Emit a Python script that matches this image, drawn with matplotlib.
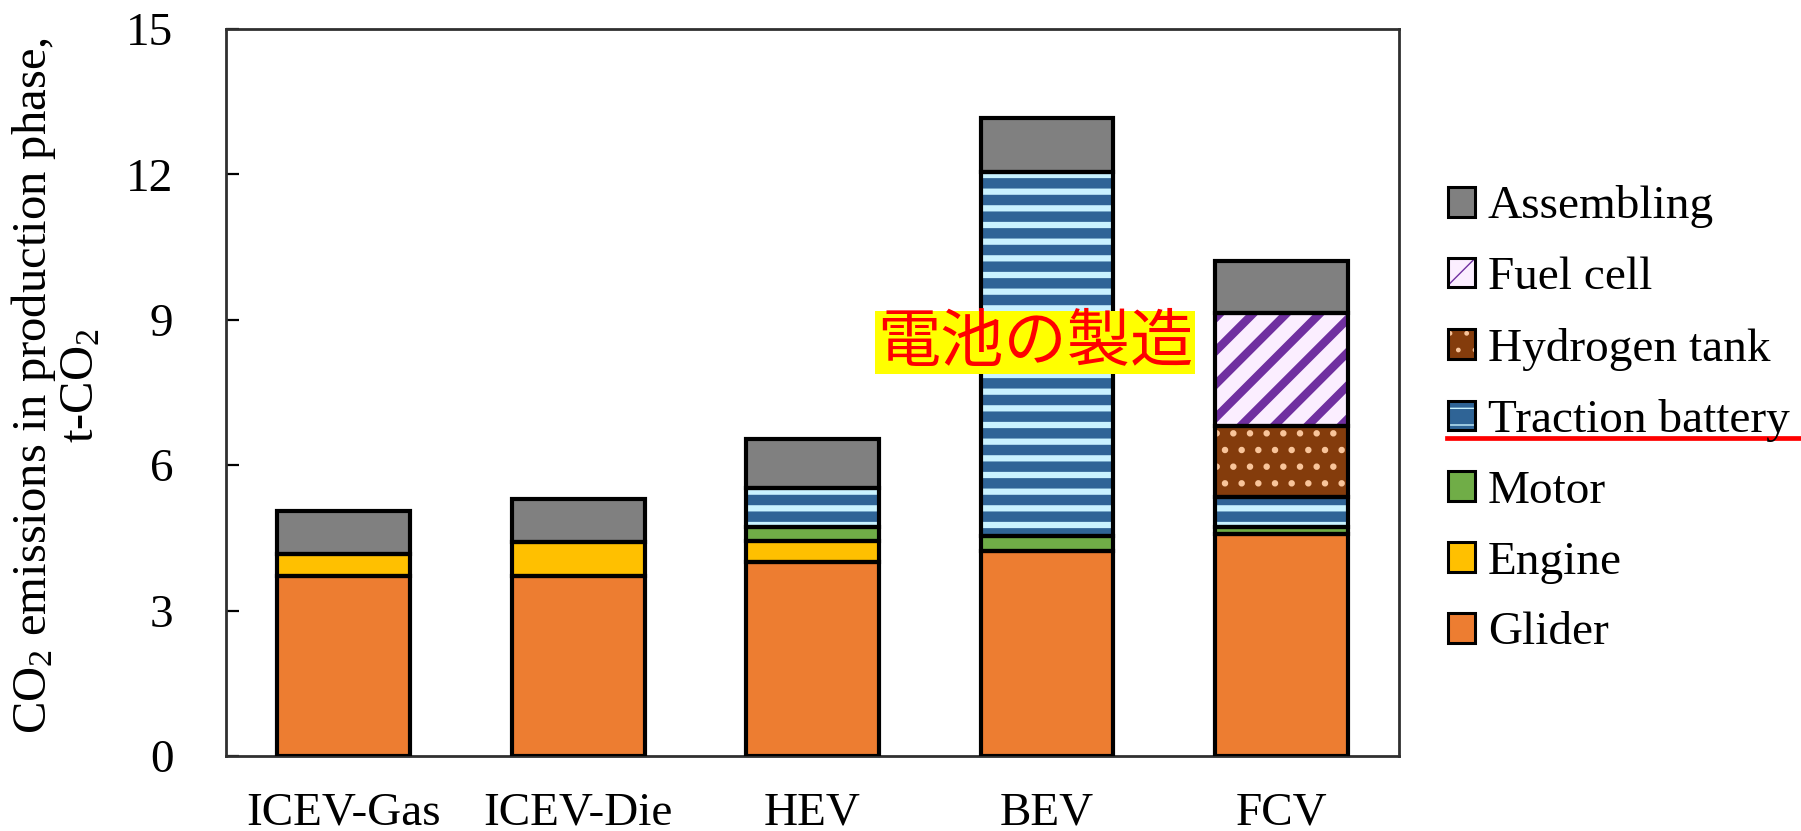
import numpy as np
import matplotlib
matplotlib.use('Agg')
import matplotlib.pyplot as plt
from matplotlib.patches import Patch, Rectangle
from matplotlib.lines import Line2D

vehicles = ['ICEV-Gas', 'ICEV-Die', 'HEV', 'BEV', 'FCV']

# t-CO2 per vehicle, stacked from the bottom up
glider = [3.72, 3.72, 4.00, 4.22, 4.57]
engine = [0.45, 0.70, 0.43, 0.00, 0.00]
motor = [0.00, 0.00, 0.30, 0.31, 0.15]
traction_battery = [0.00, 0.00, 0.80, 7.52, 0.62]
hydrogen_tank = [0.00, 0.00, 0.00, 0.00, 1.47]
fuel_cell = [0.00, 0.00, 0.00, 0.00, 2.33]
assembling = [0.88, 0.88, 1.00, 1.12, 1.08]

components = ['Glider', 'Engine', 'Motor', 'Traction battery',
              'Hydrogen tank', 'Fuel cell', 'Assembling']
series = [glider, engine, motor, traction_battery,
          hydrogen_tank, fuel_cell, assembling]

y_ticks = [0, 3, 6, 9, 12, 15]
note_text = '電池の製造'

# face colour, hatch, hatch colour, hatch line width
styles = {
    'Glider': ('#ED7D31', None, '#ED7D31', 1.0),
    'Engine': ('#FFC000', None, '#FFC000', 1.0),
    'Motor': ('#70AD47', None, '#70AD47', 1.0),
    'Traction battery': ('#2F6496', '-', '#C9F3FF', 4.5),
    'Hydrogen tank': ('#843C0C', '.', '#F8C49A', 2.2),
    'Fuel cell': ('#FBEEFF', '/', '#7030A0', 6.0),
    'Assembling': ('#808080', None, '#808080', 1.0),
}

plt.rcParams['font.family'] = ['Liberation Serif', 'DejaVu Serif']
plt.rcParams['mathtext.fontset'] = 'custom'
plt.rcParams['mathtext.rm'] = 'Liberation Serif'
plt.rcParams['mathtext.it'] = 'Liberation Serif:italic'
plt.rcParams['font.size'] = 34

fig = plt.figure(figsize=(18.01, 8.31), dpi=100)
ax = fig.add_axes([0.1257, 0.0903, 0.6509, 0.8748])

x = np.arange(len(vehicles))
width = 0.567
bottom = np.zeros(len(vehicles))
edge_lw = 3.0


def hatched_patch(name, **kw):
    face, hatch, hcolor, hlw = styles[name]
    plt.rcParams['hatch.linewidth'] = hlw
    p = Patch(facecolor=face, edgecolor=hcolor, hatch=hatch, linewidth=0, **kw)
    if hasattr(p, 'set_hatch_linewidth'):
        p.set_hatch_linewidth(hlw)
    return p


for name, vals in zip(components, series):
    vals = np.array(vals, dtype=float)
    face, hatch, hcolor, hlw = styles[name]
    m = vals > 0
    plt.rcParams['hatch.linewidth'] = hlw
    # colour/hatch layer: hatch takes the edge colour, so the edge is kept at zero width
    bars = ax.bar(x[m], vals[m], width, bottom=bottom[m], color=face,
                  edgecolor=hcolor, linewidth=0, hatch=hatch, zorder=2)
    for b in bars:
        if hasattr(b, 'set_hatch_linewidth'):
            b.set_hatch_linewidth(hlw)
    # black outline on top
    ax.bar(x[m], vals[m], width, bottom=bottom[m], fill=False,
           edgecolor='black', linewidth=edge_lw, zorder=3)
    bottom += vals

ax.set_xlim(-0.5, len(vehicles) - 0.5)
ax.set_ylim(0, 15)
ax.set_yticks(y_ticks)
ax.set_xticks(x)
ax.set_xticklabels(vehicles)
ax.tick_params(axis='x', length=0, pad=26)
ax.tick_params(axis='y', direction='in', length=9, width=1.6, pad=38)
for s in ax.spines.values():
    s.set_linewidth(2.0)
    s.set_color('#303030')

# y label as two separate rotated lines
fig.text(34 / 1801, 1 - 386 / 831, 'CO$_\\mathrm{2}$ emissions in production phase,',
         rotation=90, ha='center', va='center', fontsize=35)
fig.text(81 / 1801, 1 - 386 / 831, 't-CO$_\\mathrm{2}$',
         rotation=90, ha='center', va='center', fontsize=35)

# highlighted note over the battery bar
note_box = (2.266, 7.88, 1.365, 1.30)
ax.add_patch(Rectangle(note_box[:2], note_box[2], note_box[3], facecolor='#FFFF00',
                       edgecolor='none', zorder=5))
ax.text(note_box[0] + note_box[2] / 2, note_box[1] + note_box[3] / 2, note_text,
        ha='center', va='center', color='#FF0000', fontsize=45.5, zorder=6,
        family=['Noto Sans CJK JP', 'DejaVu Sans'])

# legend, top entry first
handles = []
for name in components[::-1]:
    handles.append((hatched_patch(name),
                    Patch(fill=False, edgecolor='black', linewidth=2.2)))
fig.legend(handles, components[::-1], loc='center left',
           bbox_to_anchor=(1448 / 1801, 1 - 420 / 831), bbox_transform=fig.transFigure,
           frameon=False, fontsize=34, handlelength=0.58, handleheight=0.58,
           handletextpad=0.26, labelspacing=0.60, borderpad=0, borderaxespad=0)

# red underline below the battery entry
fig.add_artist(Line2D([1447 / 1801, 1.0], [1 - 438 / 831] * 2,
                      transform=fig.transFigure, color='#FF0000', linewidth=3.4))

fig.savefig('out.png', dpi=100)
